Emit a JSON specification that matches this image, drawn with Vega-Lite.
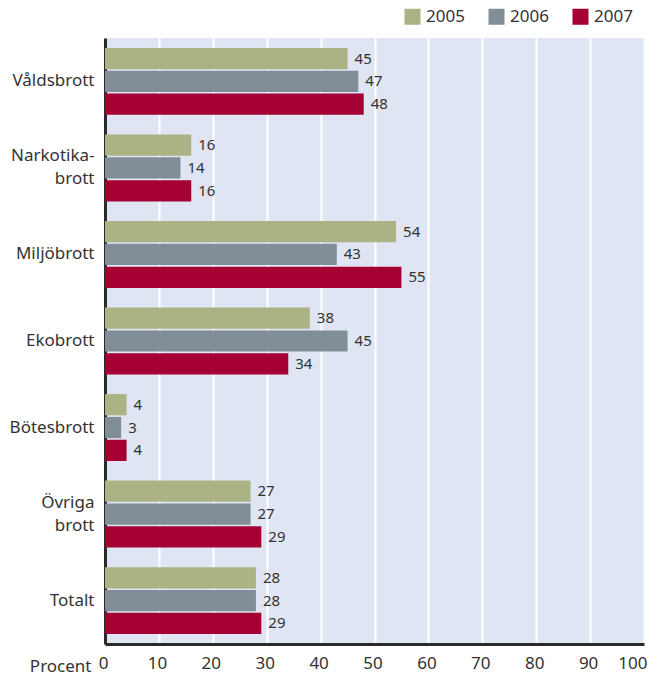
{
  "$schema": "https://vega.github.io/schema/vega-lite/v6.json",
  "width": 539,
  "height": 606,
  "autosize": "none",
  "padding": {"left": 105, "top": 38, "right": 19, "bottom": 34},
  "background": "white",
  "config": {
    "font": "Noto Sans",
    "view": {"fill": "#dfe5f2", "stroke": null}
  },
  "data": {
    "values": [
      {"kategori": "Våldsbrott", "ar": "2005", "varde": 45},
      {"kategori": "Våldsbrott", "ar": "2006", "varde": 47},
      {"kategori": "Våldsbrott", "ar": "2007", "varde": 48},
      {"kategori": "Narkotika-brott", "ar": "2005", "varde": 16},
      {"kategori": "Narkotika-brott", "ar": "2006", "varde": 14},
      {"kategori": "Narkotika-brott", "ar": "2007", "varde": 16},
      {"kategori": "Miljöbrott", "ar": "2005", "varde": 54},
      {"kategori": "Miljöbrott", "ar": "2006", "varde": 43},
      {"kategori": "Miljöbrott", "ar": "2007", "varde": 55},
      {"kategori": "Ekobrott", "ar": "2005", "varde": 38},
      {"kategori": "Ekobrott", "ar": "2006", "varde": 45},
      {"kategori": "Ekobrott", "ar": "2007", "varde": 34},
      {"kategori": "Bötesbrott", "ar": "2005", "varde": 4},
      {"kategori": "Bötesbrott", "ar": "2006", "varde": 3},
      {"kategori": "Bötesbrott", "ar": "2007", "varde": 4},
      {"kategori": "Övriga brott", "ar": "2005", "varde": 27},
      {"kategori": "Övriga brott", "ar": "2006", "varde": 27},
      {"kategori": "Övriga brott", "ar": "2007", "varde": 29},
      {"kategori": "Totalt", "ar": "2005", "varde": 28},
      {"kategori": "Totalt", "ar": "2006", "varde": 28},
      {"kategori": "Totalt", "ar": "2007", "varde": 29}
    ]
  },
  "encoding": {
    "y": {
      "field": "kategori",
      "type": "nominal",
      "sort": null,
      "scale": {"paddingInner": 0.227, "paddingOuter": 0.115},
      "axis": {
        "title": null,
        "domainColor": "#2a2a2a",
        "domainWidth": 3,
        "ticks": false,
        "labelFontSize": 17,
        "labelColor": "#333333",
        "labelPadding": 11,
        "labelLineHeight": 23,
        "labelOffset": {
          "condition": {"test": "datum.label == 'Narkotika-brott' || datum.label == 'Övriga brott'", "value": -11.5},
          "value": 0
        },
        "labelExpr": "datum.label == 'Narkotika-brott' ? ['Narkotika-', 'brott'] : datum.label == 'Övriga brott' ? ['Övriga', 'brott'] : datum.label"
      }
    },
    "yOffset": {
      "field": "ar",
      "type": "nominal",
      "scale": {"paddingInner": 0.07, "paddingOuter": 0}
    },
    "x": {
      "field": "varde",
      "type": "quantitative",
      "scale": {"domain": [0, 100], "nice": false},
      "axis": {
        "values": [0, 10, 20, 30, 40, 50, 60, 70, 80, 90, 100],
        "grid": true,
        "gridColor": "white",
        "gridWidth": 2,
        "gridOpacity": 1,
        "domainColor": "#2a2a2a",
        "domainWidth": 3,
        "ticks": false,
        "labelFontSize": 17,
        "labelColor": "#333333",
        "labelPadding": 11,
        "labelFlush": false,
        "labelAlign": {
          "condition": {"test": "datum.value == 100", "value": "right"},
          "value": "center"
        },
        "labelOffset": {
          "condition": {"test": "datum.value == 100", "value": 3},
          "value": -2
        },
        "title": "Procent",
        "titleFontSize": 17,
        "titleFontWeight": "normal",
        "titleColor": "#333333",
        "titleAnchor": "start",
        "titleAlign": "right",
        "titleBaseline": "middle",
        "titleX": -14,
        "titleY": 22
      }
    }
  },
  "layer": [
    {
      "mark": {"type": "bar"},
      "encoding": {
        "color": {
          "field": "ar",
          "type": "nominal",
          "scale": {"domain": ["2005", "2006", "2007"], "range": ["#abb384", "#818e97", "#a50034"]},
          "legend": {
            "title": null,
            "orient": "none",
            "direction": "horizontal",
            "legendX": 299,
            "legendY": -30,
            "symbolType": "square",
            "symbolSize": 256,
            "symbolStrokeWidth": 0,
            "symbolOpacity": 1,
            "labelFontSize": 17,
            "labelColor": "#333333",
            "labelOffset": 5,
            "columnPadding": 23
          }
        }
      }
    },
    {
      "mark": {"type": "text", "align": "left", "baseline": "middle", "dx": 7, "fontSize": 15, "color": "#333333"},
      "encoding": {
        "text": {"field": "varde", "type": "quantitative"}
      }
    }
  ]
}
